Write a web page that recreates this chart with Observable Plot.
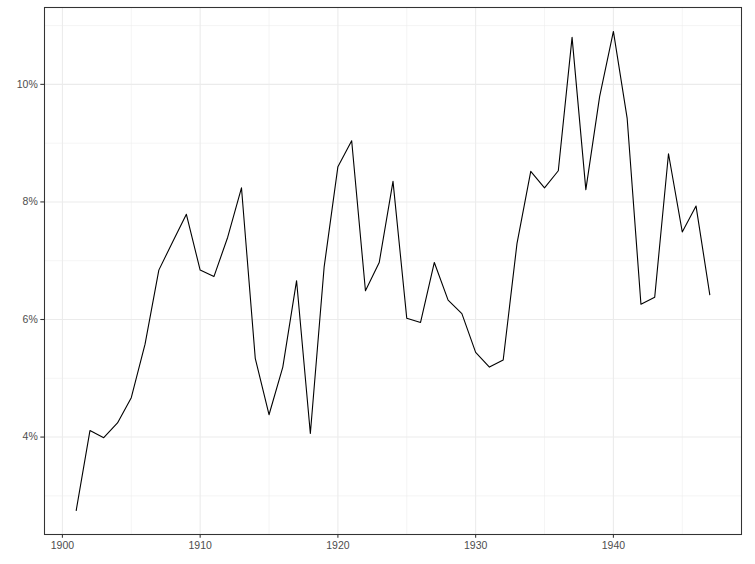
<!DOCTYPE html>
<html>
<head>
<meta charset="utf-8">
<script src="https://cdn.jsdelivr.net/npm/d3@7"></script>
<script src="https://cdn.jsdelivr.net/npm/@observablehq/plot@0.6"></script>
<style>
  html, body { margin: 0; padding: 0; background: #fff; }
  #chart { width: 755px; height: 564px; }
</style>
</head>
<body>
<div id="chart"></div>
<script>
const years = [1901,1902,1903,1904,1905,1906,1907,1908,1909,1910,
               1911,1912,1913,1914,1915,1916,1917,1918,1919,1920,
               1921,1922,1923,1924,1925,1926,1927,1928,1929,1930,
               1931,1932,1933,1934,1935,1936,1937,1938,1939,1940,
               1941,1942,1943,1944,1945,1946,1947];
const rates = [2.75,4.11,3.99,4.24,4.67,5.58,6.84,7.32,7.79,6.84,
               6.73,7.40,8.24,5.34,4.38,5.19,6.66,4.06,6.89,8.60,
               9.04,6.49,6.97,8.35,6.02,5.95,6.97,6.33,6.10,5.44,
               5.19,5.31,7.29,8.52,8.24,8.53,10.80,8.21,9.79,10.90,
               9.42,6.26,6.38,8.82,7.49,7.93,6.42];
const xMajor = [1900,1910,1920,1930,1940];
const xMinor = [1905,1915,1925,1935,1945];
const yMajor = [4,6,8,10];
const yMinor = [3,5,7,9,11];

const data = years.map((y, i) => ({year: y, rate: rates[i]}));

const xr = d3.extent(years), yr = d3.extent(rates);
const xpad = (xr[1] - xr[0]) * 0.05, ypad = (yr[1] - yr[0]) * 0.05;

const chart = Plot.plot({
  width: 755,
  height: 564,
  marginLeft: 44,
  marginTop: 7,
  marginRight: 14,
  marginBottom: 30,
  style: {fontFamily: "'Liberation Sans', Arial, Helvetica, sans-serif", fontSize: "10.5px", background: "#fff"},
  x: {domain: [xr[0] - xpad, xr[1] + xpad], axis: null, label: null},
  y: {domain: [yr[0] - ypad, yr[1] + ypad], axis: null, label: null},
  marks: [
    Plot.ruleX(xMinor, {stroke: "#ebebeb", strokeWidth: 0.55}),
    Plot.ruleY(yMinor, {stroke: "#ebebeb", strokeWidth: 0.55}),
    Plot.ruleX(xMajor, {stroke: "#ebebeb", strokeWidth: 1.07}),
    Plot.ruleY(yMajor, {stroke: "#ebebeb", strokeWidth: 1.07}),
    Plot.line(data, {x: "year", y: "rate", stroke: "#000", strokeWidth: 1.1}),
    Plot.frame({stroke: "#333", strokeWidth: 1.07}),
    Plot.axisX({ticks: xMajor, label: null, tickFormat: d => String(d), tickSize: 3.7, tickPadding: 3, stroke: "#333", fill: "#4d4d4d", strokeWidth: 1.07}),
    Plot.axisY({ticks: yMajor, label: null, tickFormat: d => d + "%", tickSize: 3.7, tickPadding: 3, stroke: "#333", fill: "#4d4d4d", strokeWidth: 1.07})
  ]
});
document.getElementById("chart").appendChild(chart);
</script>
</body>
</html>
